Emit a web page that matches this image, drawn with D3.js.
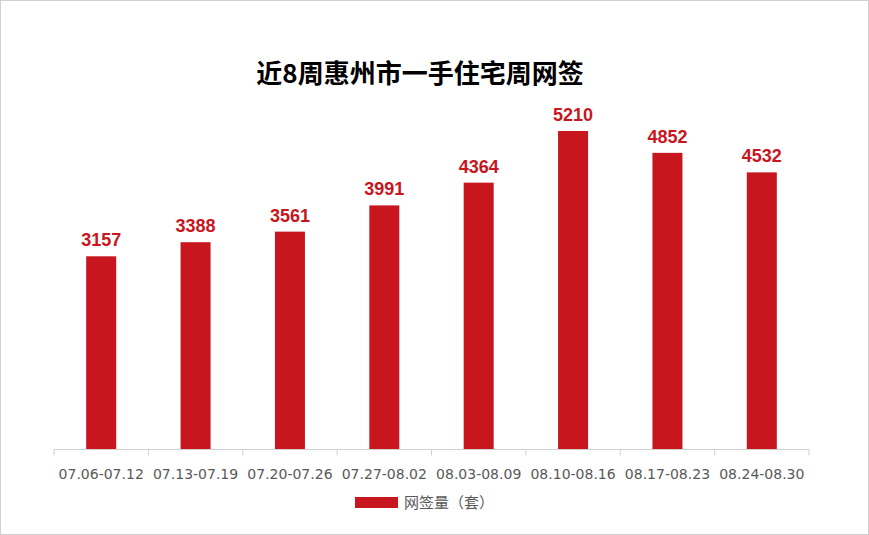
<html><head>
<meta charset="utf-8">
<script src="https://cdn.jsdelivr.net/npm/d3@7"></script>
<style>
body{ margin:0px; background:#fff; }
text{ font-family: "Noto Sans CJK SC", "Liberation Sans", sans-serif; }
</style>
</head><body>
<script>
var width = 869, height = 535;

var weeks = ["07.06-07.12","07.13-07.19","07.20-07.26","07.27-08.02","08.03-08.09","08.10-08.16","08.17-08.23","08.24-08.30"];
var sales = [3157,3388,3561,3991,4364,5210,4852,4532];

var svg = d3.select("body").append("svg")
  .attr("width", width).attr("height", height);

svg.append("rect").attr("x",0.5).attr("y",0.5).attr("width",width-1).attr("height",height-1)
  .attr("fill","#fff").attr("stroke","#d0d0d0");

svg.append("text").text("近8周惠州市一手住宅周网签")
  .attr("x", 420).attr("y", 83).attr("text-anchor","middle")
  .attr("font-size", 26).attr("font-weight","bold").attr("fill","#000");

var x = d3.scaleBand().domain(weeks).range([54, 809]).padding(0);
var y = d3.scaleLinear().domain([0, 5210]).range([449, 131]);

var g = svg.append("g");
g.selectAll(".bar").data(sales).enter().append("rect")
  .attr("x", function(d,i){ return x(weeks[i]) + x.bandwidth()/2 - 15; })
  .attr("y", function(d){ return y(d); })
  .attr("width", 30)
  .attr("height", function(d){ return y(0) - y(d); })
  .attr("fill", "#c8161e");

g.selectAll(".lbl").data(sales).enter().append("text")
  .text(function(d){ return d; })
  .attr("x", function(d,i){ return x(weeks[i]) + x.bandwidth()/2; })
  .attr("y", function(d){ return y(d) - 10; })
  .attr("text-anchor","middle").attr("font-size",18).attr("font-weight","bold")
  .style("font-family","'Liberation Sans', sans-serif")
  .attr("fill","#c8161e");

var axis = svg.append("g").attr("transform","translate(0,449.5)")
  .call(d3.axisBottom(x).tickSize(0).tickPadding(20));
axis.select(".domain").attr("stroke","#d0d0d0").attr("d","M54,0H809");
axis.selectAll("text").attr("font-size",14).attr("fill","#595959")
  .style("font-family","'DejaVu Sans', sans-serif");
axis.selectAll(".sep").data(d3.range(weeks.length+1)).enter().append("line")
  .attr("x1", function(i){ return 54 + i*x.bandwidth(); })
  .attr("x2", function(i){ return 54 + i*x.bandwidth(); })
  .attr("y1",0).attr("y2",6).attr("stroke","#d0d0d0");

svg.append("rect").attr("x",355).attr("y",497).attr("width",43).attr("height",11).attr("fill","#c8161e");
svg.append("text").text("网签量（套）").attr("x",404).attr("y",508)
  .attr("font-size",15).attr("fill","#595959");
</script>
</body></html>
